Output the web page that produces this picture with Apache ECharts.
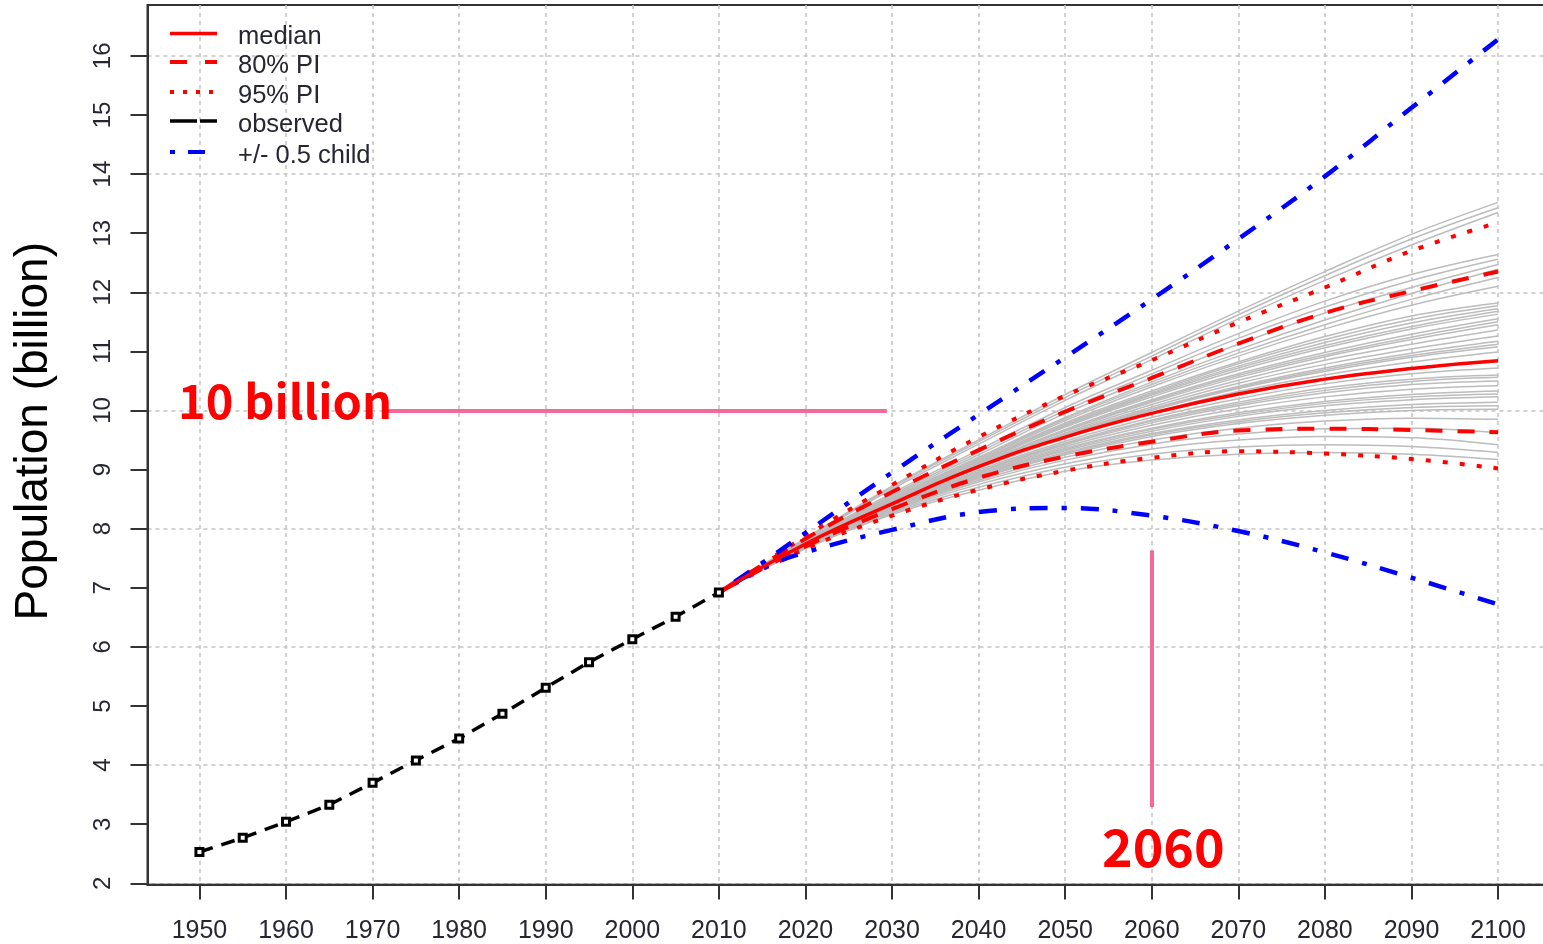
<!DOCTYPE html>
<html>
<head>
<meta charset="utf-8">
<script src="https://cdn.jsdelivr.net/npm/echarts@6/dist/echarts.min.js"></script>
<style>
  html, body { margin: 0; padding: 0; background: #fff; }
  #chart { width: 1543px; height: 944px; }
</style>
</head>
<body>
<div id="chart"></div>
<script>
// World population (billion): observed estimates and probabilistic projections

const observedYears = [1950, 1955, 1960, 1965, 1970, 1975, 1980, 1985, 1990, 1995, 2000, 2005, 2010];
const observed = [2.53, 2.77, 3.04, 3.33, 3.70, 4.08, 4.45, 4.87, 5.31, 5.74, 6.13, 6.51, 6.92];

const projYears = [2010, 2020, 2030, 2040, 2050, 2060, 2070, 2080, 2090, 2100];
const median    = [6.92, 7.74, 8.42, 9.05, 9.55, 9.95, 10.28, 10.53, 10.71, 10.84];
const pi80Upper = [6.92, 7.83, 8.62, 9.33, 9.98, 10.55, 11.13, 11.65, 12.02, 12.35];
const pi80Lower = [6.92, 7.70, 8.33, 8.86, 9.22, 9.47, 9.66, 9.69, 9.67, 9.63];
const pi95Upper = [6.92, 7.87, 8.74, 9.55, 10.25, 10.85, 11.49, 12.08, 12.70, 13.18];
const pi95Lower = [6.92, 7.66, 8.22, 8.66, 8.98, 9.20, 9.31, 9.27, 9.18, 9.02];

const childYears = [2010, 2015, 2020, 2030, 2040, 2050, 2060, 2070, 2080, 2090, 2100];
const childPlus  = [6.92, 7.42, 7.93, 8.95, 9.93, 10.90, 11.88, 12.90, 13.96, 15.12, 16.28];
const childMinus = [6.92, 7.33, 7.60, 7.98, 8.28, 8.35, 8.22, 7.96, 7.60, 7.17, 6.72];

// simulated trajectories (values at projYears)
const trajectories = [
  [6.92, 7.84, 8.72, 9.50, 10.27, 10.98, 11.68, 12.35, 12.98, 13.52],
  [6.92, 7.83, 8.70, 9.47, 10.22, 10.92, 11.62, 12.28, 12.90, 13.43],
  [6.92, 7.82, 8.67, 9.43, 10.17, 10.86, 11.55, 12.20, 12.80, 13.35],
  [6.92, 7.80, 8.60, 9.33, 10.05, 10.68, 11.30, 11.85, 12.30, 12.64],
  [6.92, 7.79, 8.57, 9.29, 10.00, 10.62, 11.22, 11.75, 12.20, 12.56],
  [6.92, 7.79, 8.55, 9.25, 9.95, 10.55, 11.12, 11.65, 12.08, 12.47],
  [6.92, 7.78, 8.53, 9.21, 9.88, 10.48, 11.03, 11.53, 11.98, 12.39],
  [6.92, 7.78, 8.52, 9.19, 9.86, 10.44, 10.97, 11.45, 11.88, 12.25],
  [6.92, 7.77, 8.51, 9.17, 9.83, 10.40, 10.92, 11.38, 11.78, 12.10],
  [6.92, 7.77, 8.50, 9.15, 9.79, 10.33, 10.82, 11.25, 11.60, 11.82],
  [6.92, 7.77, 8.49, 9.14, 9.77, 10.30, 10.79, 11.20, 11.54, 11.77],
  [6.92, 7.76, 8.48, 9.13, 9.75, 10.28, 10.75, 11.15, 11.48, 11.72],
  [6.92, 7.76, 8.48, 9.12, 9.74, 10.26, 10.72, 11.10, 11.42, 11.68],
  [6.92, 7.76, 8.47, 9.11, 9.72, 10.23, 10.68, 11.06, 11.38, 11.63],
  [6.92, 7.75, 8.46, 9.09, 9.68, 10.18, 10.62, 10.98, 11.29, 11.55],
  [6.92, 7.75, 8.45, 9.08, 9.66, 10.16, 10.59, 10.94, 11.24, 11.50],
  [6.92, 7.75, 8.45, 9.07, 9.65, 10.14, 10.56, 10.91, 11.20, 11.45],
  [6.92, 7.74, 8.44, 9.06, 9.62, 10.10, 10.51, 10.85, 11.12, 11.36],
  [6.92, 7.74, 8.43, 9.05, 9.60, 10.06, 10.46, 10.78, 11.04, 11.26],
  [6.92, 7.74, 8.43, 9.04, 9.58, 10.03, 10.41, 10.72, 10.97, 11.17],
  [6.92, 7.73, 8.42, 9.03, 9.57, 10.02, 10.39, 10.69, 10.93, 11.12],
  [6.92, 7.73, 8.42, 9.03, 9.56, 10.00, 10.37, 10.66, 10.90, 11.08],
  [6.92, 7.73, 8.41, 9.02, 9.53, 9.96, 10.32, 10.60, 10.82, 10.99],
  [6.92, 7.72, 8.40, 8.99, 9.48, 9.88, 10.20, 10.45, 10.62, 10.72],
  [6.92, 7.72, 8.39, 8.97, 9.45, 9.84, 10.14, 10.38, 10.53, 10.60],
  [6.92, 7.71, 8.38, 8.96, 9.43, 9.82, 10.11, 10.34, 10.49, 10.56],
  [6.92, 7.71, 8.38, 8.95, 9.42, 9.79, 10.08, 10.30, 10.44, 10.50],
  [6.92, 7.71, 8.37, 8.93, 9.39, 9.75, 10.03, 10.23, 10.36, 10.42],
  [6.92, 7.70, 8.36, 8.91, 9.36, 9.70, 9.96, 10.15, 10.27, 10.33],
  [6.92, 7.70, 8.36, 8.90, 9.34, 9.68, 9.93, 10.12, 10.23, 10.28],
  [6.92, 7.70, 8.35, 8.89, 9.32, 9.65, 9.90, 10.08, 10.18, 10.23],
  [6.92, 7.69, 8.34, 8.87, 9.29, 9.61, 9.84, 10.00, 10.10, 10.14],
  [6.92, 7.69, 8.34, 8.86, 9.27, 9.59, 9.81, 9.96, 10.05, 10.08],
  [6.92, 7.69, 8.33, 8.85, 9.25, 9.56, 9.78, 9.92, 10.00, 10.02],
  [6.92, 7.68, 8.32, 8.82, 9.21, 9.50, 9.70, 9.82, 9.87, 9.85],
  [6.92, 7.68, 8.30, 8.79, 9.16, 9.43, 9.60, 9.69, 9.70, 9.62],
  [6.92, 7.67, 8.28, 8.75, 9.10, 9.35, 9.50, 9.56, 9.54, 9.42],
  [6.92, 7.67, 8.26, 8.70, 9.04, 9.26, 9.38, 9.42, 9.39, 9.29],
  [6.92, 7.66, 8.24, 8.65, 8.97, 9.16, 9.26, 9.29, 9.26, 9.17]
];

const xTicks = [1950, 1960, 1970, 1980, 1990, 2000, 2010, 2020, 2030, 2040, 2050, 2060, 2070, 2080, 2090, 2100];
const yTicks = [2, 3, 4, 5, 6, 7, 8, 9, 10, 11, 12, 13, 14, 15, 16];
const yGridValues = [2, 4, 6, 8, 10, 12, 14, 16];

const legendLabels = ['median', '80% PI', '95% PI', 'observed', '+/- 0.5 child'];

const tenBillion = 10;
const markYear = 2060;

const pairs = (xs, ys) => xs.map((x, i) => [x, ys[i]]);

const RED = '#ff0000';
const BLUE = '#0000ff';
const PINK = '#f3699b';
const AXIS = '#333333';
const LABEL = '#262633';
const GRID = '#c4c4c4';
const SANS = '"Liberation Sans", Arial, sans-serif';

const series = [];

trajectories.forEach((t) => {
  series.push({
    type: 'line', data: pairs(projYears, t), symbol: 'none', smooth: 0.4,
    lineStyle: { color: '#bcbcbc', width: 1.5 }, silent: true, z: 1, animation: false
  });
});

function band(data, dash, width, color) {
  return {
    type: 'line', data, symbol: 'none', smooth: 0.4, silent: true, z: 3, animation: false,
    lineStyle: { color, width, type: dash, cap: 'butt' }
  };
}

series.push(band(pairs(projYears, pi95Upper), [5, 12], 4, RED));
series.push(band(pairs(projYears, pi95Lower), [5, 12], 4, RED));
series.push(band(pairs(projYears, pi80Upper), [17, 15], 4, RED));
series.push(band(pairs(projYears, pi80Lower), [17, 15], 4, RED));
series.push(band(pairs(childYears, childPlus), [5, 14, 18, 14], 4.5, BLUE));
series.push(band(pairs(childYears, childMinus), [5, 14, 18, 14], 4.5, BLUE));

series.push({
  type: 'line', data: pairs(projYears, median), symbol: 'none', smooth: 0.5,
  silent: true, z: 4, animation: false,
  lineStyle: { color: RED, width: 3.5 },
  markLine: {
    silent: true, symbol: 'none', animation: false,
    label: { show: false },
    lineStyle: { color: PINK, width: 4, type: 'solid' },
    data: [
      [{ coord: [1971.3, tenBillion] }, { coord: [2029.4, tenBillion] }],
      [{ coord: [markYear, 7.63] }, { coord: [markYear, 3.29] }]
    ]
  }
});

series.push({
  type: 'line', data: pairs(observedYears, observed), symbol: 'rect', symbolSize: 7,
  showSymbol: true, silent: true, z: 5, animation: false,
  lineStyle: { color: '#000', width: 3.5, type: [14, 9] },
  itemStyle: { color: '#fff', borderColor: '#000', borderWidth: 3 }
});

// legend drawn as plain graphics
const legendStyles = [
  { stroke: RED, dash: null, width: 3.5 },
  { stroke: RED, dash: [17, 18], width: 4 },
  { stroke: RED, dash: [4, 9], width: 4 },
  { stroke: '#000', dash: [27, 3], width: 3.5 },
  { stroke: BLUE, dash: [5, 13, 17, 13], width: 4 }
];
const legendRowY = [33.5, 62, 92, 121, 152];
const graphics = [];
legendLabels.forEach((name, i) => {
  const st = legendStyles[i];
  graphics.push({
    type: 'line', silent: true, z: 100,
    shape: { x1: 170, y1: legendRowY[i], x2: 217, y2: legendRowY[i] },
    style: { stroke: st.stroke, lineWidth: st.width, lineDash: st.dash || null, lineCap: 'butt' }
  });
  graphics.push({
    type: 'text', silent: true, z: 100, x: 238, y: legendRowY[i] + 3.5,
    style: { text: name, fill: LABEL, font: '25.5px ' + SANS, align: 'left', verticalAlign: 'middle' }
  });
});
graphics.push({
  type: 'text', silent: true, z: 100, x: 178, y: 401,
  style: { text: '10 billion', fill: RED, font: 'bold 47px "Noto Sans CJK JP", sans-serif', align: 'left', verticalAlign: 'middle' }
});
graphics.push({
  type: 'text', silent: true, z: 100, x: 1102, y: 847,
  style: { text: String(markYear), fill: RED, font: 'bold 52px "Noto Sans CJK JP", sans-serif', align: 'left', verticalAlign: 'middle' }
});

const chart = echarts.init(document.getElementById('chart'), null, { renderer: 'canvas' });
chart.setOption({
  animation: false,
  backgroundColor: '#fff',
  grid: {
    left: 147.5, width: 1402.5, top: 5, bottom: 59.5,
    outerBoundsMode: 'none', containLabel: false,
    show: true, borderColor: AXIS, borderWidth: 2, backgroundColor: 'transparent'
  },
  xAxis: {
    type: 'value', min: 1944, max: 2106,
    axisLine: { show: true, onZero: false, lineStyle: { color: AXIS, width: 2 } },
    axisTick: { show: true, length: 15, customValues: xTicks, lineStyle: { color: AXIS, width: 2 } },
    axisLabel: { customValues: xTicks, formatter: (v) => String(v), margin: 34, fontSize: 25, fontFamily: SANS, color: LABEL },
    splitLine: { show: true, lineStyle: { color: GRID, width: 1.5, type: [4, 4] } }
  },
  yAxis: [
    {
      type: 'value', min: 1.98, max: 16.86, position: 'left',
      name: 'Population (billion)', nameLocation: 'middle', nameRotate: 90, nameGap: 90,
      nameTextStyle: { fontSize: 46, fontFamily: SANS, color: '#000', padding: [0, 0, 0, 27] },
      axisLine: { show: true, onZero: false, lineStyle: { color: AXIS, width: 2 } },
      axisTick: { show: true, length: 17, customValues: yTicks, lineStyle: { color: AXIS, width: 2 } },
      axisLabel: { customValues: yTicks, formatter: (v) => String(v), rotate: 90, margin: 32, fontSize: 24, fontFamily: SANS, color: LABEL },
      splitLine: { show: false }
    },
    {
      type: 'value', min: 1.98, max: 16.86, position: 'left',
      axisLine: { show: false }, axisTick: { show: false, customValues: yGridValues },
      axisLabel: { show: false, customValues: yGridValues },
      splitLine: { show: true, lineStyle: { color: GRID, width: 1.5, type: [4, 4] } }
    }
  ],
  series: series,
  graphic: graphics
});
</script>
</body>
</html>
